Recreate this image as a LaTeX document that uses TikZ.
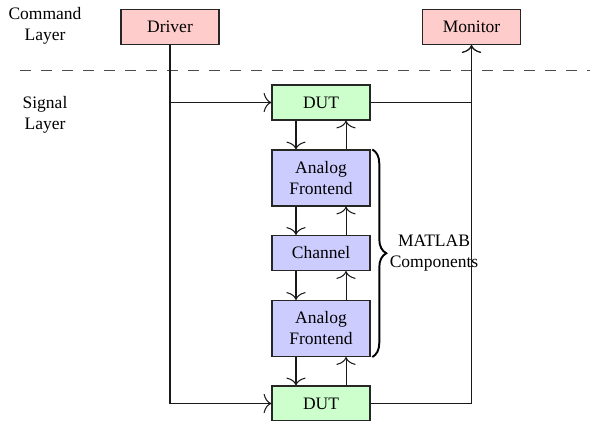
\documentclass[tikz,border=0pt]{standalone}
\usepackage{fontspec}
\setmainfont{Liberation Serif}
\usetikzlibrary{decorations.pathreplacing,arrows.meta}
\begin{document}
\begin{tikzpicture}[x=0.5714pt,y=-0.5714pt,
  font=\fontsize{10}{12}\selectfont,
  box/.style={draw=black!85, semithick, minimum width=56pt, minimum height=20pt, inner sep=2pt, align=center},
  cmdbox/.style={box, fill=red!20},
  dutbox/.style={box, fill=green!20},
  matbox/.style={box, fill=blue!20},
  tallbox/.style={minimum height=32pt},
  conn/.style={semithick, -{To[length=4.5pt,width=11pt]}, black!90},
  lbl/.style={align=center, inner sep=1pt}]
\useasboundingbox (0,0) rectangle (590,420);
% layer separator
\coordinate (dashL) at (20,70.5);
\coordinate (dashR) at (592,70.5);
\draw[dash pattern=on 6pt off 6pt, black!70, semithick] (dashL) -- (dashR);
% labels
\node[lbl] (cmdlbl) at (45,26) {Command\\Layer};
\node[lbl] (siglbl) at (45,115) {Signal\\Layer};
% boxes
\node[cmdbox] (driver) at (170,27) {Driver};
\node[cmdbox] (monitor) at (471.5,27) {Monitor};
\node[dutbox] (dut1) at (321,102.5) {DUT};
\node[matbox, tallbox] (af1) at (321,178) {Analog\\Frontend};
\node[matbox] (ch) at (321,253) {Channel};
\node[matbox, tallbox] (af2) at (321,328.5) {Analog\\Frontend};
\node[dutbox] (dut2) at (321,403.5) {DUT};
% chain arrows
\foreach \a/\b in {dut1/af1, af1/ch, ch/af2, af2/dut2}{
  \draw[conn] ([xshift=-14.3pt]\a.south) -- ([xshift=-14.3pt]\b.north);
  \draw[conn] ([xshift=14.3pt]\b.north) -- ([xshift=14.3pt]\a.south);
}
% driver and monitor
\draw[conn] (driver.south) |- (dut1.west);
\draw[conn] (driver.south) |- (dut2.west);
\draw[conn] (dut1.east) -| (monitor.south);
\draw[conn] (dut2.east) -| (monitor.south);
% brace
\draw[line width=1.1pt, decorate, decoration={brace, amplitude=8pt}] ([xshift=1pt]af1.north east) -- ([xshift=1pt]af2.south east);
\node[lbl] (matlbl) at (434,253) {MATLAB\\Components};
\end{tikzpicture}
\end{document}
